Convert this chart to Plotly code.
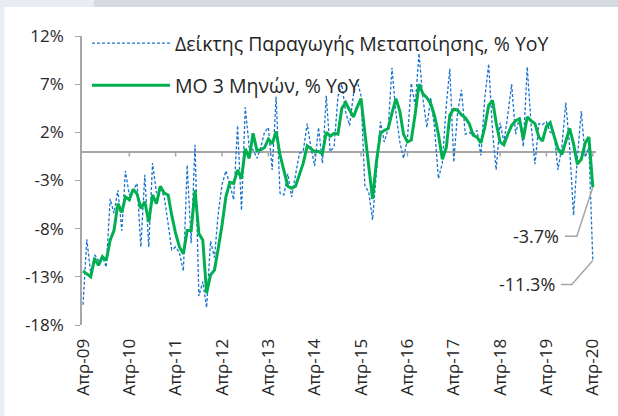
import pandas as pd
import plotly.graph_objects as go

# ---- data ----
months = pd.date_range("2009-04-01", "2020-04-01", freq="MS")
tick_labels = ["Απρ-09", "Απρ-10", "Απρ-11", "Απρ-12", "Απρ-13", "Απρ-14",
               "Απρ-15", "Απρ-16", "Απρ-17", "Απρ-18", "Απρ-19", "Απρ-20"]
y_ticks = [-18, -13, -8, -3, 2, 7, 12]
series_names = ["Δείκτης Παραγωγής Μεταποίησης, % YoY", "ΜΟ 3 Μηνών, % YoY"]

ip_yoy = [
    -15.9, -9.1, -12.7, -10.7, -11.3, -10.9, -12.0, -4.9, -6.4, -4.0, -8.2, -2.0,
    -4.5, -4.0, -3.3, -9.9, -2.4, -9.9, -1.2, -4.3, -3.7, -4.7, -7.5, -10.2,
    -9.9, -10.5, -12.4, -1.4, -9.5, 0.7, -15.0, -13.5, -16.2, -9.3, -11.0, -6.5,
    -3.4, -2.0, -3.4, -5.0, 2.7, -6.1, 4.6, 0.4, 0.2, -0.7, 0.5, 2.0,
    2.5, -1.9, 5.7, -4.3, -4.5, -2.3, -4.7, -2.6, -0.2, 0.1, 2.9, 0.5,
    -1.5, 2.5, -1.2, 5.8, 0.0, 0.5, 5.7, 7.0, 4.1, 2.7, 6.0, 7.4,
    5.8, -3.5, -4.2, -7.1, -2.1, 3.1, 1.0, 2.4, 8.7, 4.0, 1.0, -0.7,
    1.3, 7.1, 4.8, 10.2, 5.5, 2.5, 5.6, 2.4, -2.8, -1.2, 4.8, 8.6,
    -1.1, 4.1, 6.4, 1.8, 2.0, 1.7, 2.2, -0.4, 5.5, 9.1, 2.0, -1.9,
    3.0, 1.0, 3.8, 7.0, 1.8, 3.6, 0.5, 8.8, 2.9, -1.3, 2.9, 2.8,
    3.1, 2.0, 1.9, -1.9, 0.5, 5.1, 0.5, -6.6, -0.6, 4.2, -0.6, 0.5,
    -11.3,
]

ma3_yoy = [
    -12.4, -12.7, -13.0, -11.1, -11.8, -10.9, -11.3, -9.2, -8.2, -5.4, -6.3, -4.7,
    -5.0, -3.9, -4.4, -5.9, -5.2, -7.3, -4.5, -5.4, -3.6, -4.3, -4.5, -6.6,
    -8.5, -9.9, -10.6, -8.2, -8.2, -4.0, -8.5, -9.2, -14.7, -12.8, -12.3, -10.1,
    -7.6, -4.7, -3.2, -3.3, -1.9, -2.8, 0.3, -0.7, 1.9, 0.1, 0.2, 0.4,
    1.3, 0.8, 2.1, -0.3, -1.9, -3.6, -3.8, -3.6, -2.4, -1.2, 0.6, 0.3,
    0.0, 0.0, -0.2, 2.0, 1.6, 1.9, 1.8, 4.5, 5.1, 4.3, 3.6, 4.6,
    5.5, 2.0, -1.8, -4.9, -1.0, 1.9, 2.2, 2.4, 4.0, 5.5, 4.2, 1.8,
    1.0, 1.2, 3.9, 7.0, 6.0, 5.6, 5.0, 3.7, 1.8, -0.8, 0.4, 3.8,
    4.4, 4.3, 3.8, 3.5, 2.9, 1.7, 1.5, 0.9, 2.5, 4.8, 5.3, 3.0,
    1.0, 0.7, 1.8, 2.7, 3.2, 3.4, 1.3, 3.6, 3.2, 2.9, 1.5, 1.1,
    2.6, 3.0, 1.6, 0.3, -0.3, 1.0, 2.4, 0.8, -1.3, -0.8, 0.9, 1.5,
    -3.7,
]

FONT = "Open Sans"
TXT = "#262626"
GRAY = "#a6a6a6"
BLUE = "#1a73cf"
GREEN = "#00b050"

# plot-area geometry in pixels (used only for decoration placement)
W, H = 618, 416
ML, MR, MT, MB = 82, 22, 36, 91
PW, PH = W - ML - MR, H - MT - MB


def px_x(px):
    return (px - ML) / PW


def px_y(py):
    return (H - MB - py) / PH


fig = go.Figure()
fig.add_trace(go.Scatter(
    x=months, y=ip_yoy, mode="lines", name=series_names[0],
    line=dict(color=BLUE, width=1.3, dash="3px,2px"), legend="legend",
))
fig.add_trace(go.Scatter(
    x=months, y=ma3_yoy, mode="lines", name=series_names[1],
    line=dict(color=GREEN, width=3), legend="legend2",
))

tick_dates = list(months[::12])

shapes = []
# small tick marks hanging from the zero line at each April
for d in tick_dates[1:]:
    shapes.append(dict(type="line", xref="x", yref="y", ysizemode="pixel",
                       yanchor=0, x0=d, x1=d, y0=0, y1=-5,
                       line=dict(color=GRAY, width=1.5), layer="below"))

# leader lines for the last-value labels
last = months[-1]
shapes.append(dict(type="path", xref="x", yref="y", xsizemode="pixel",
                   ysizemode="pixel", xanchor=last, yanchor=ma3_yoy[-1],
                   path="M0,0 L-16,-49 L-28,-49",
                   line=dict(color=GRAY, width=1.5)))
shapes.append(dict(type="path", xref="x", yref="y", xsizemode="pixel",
                   ysizemode="pixel", xanchor=last, yanchor=ip_yoy[-1],
                   path="M0,0 L-21,-24 L-32,-24",
                   line=dict(color=GRAY, width=1.5)))

# page frame bands (outside the plot area)
shapes.append(dict(type="rect", xref="paper", yref="paper",
                   x0=px_x(0), x1=px_x(4.5), y0=px_y(0), y1=px_y(H),
                   line_width=0, fillcolor="#e8edf5", layer="above"))
shapes.append(dict(type="rect", xref="paper", yref="paper",
                   x0=px_x(0), x1=px_x(94), y0=px_y(0), y1=px_y(7),
                   line_width=0, fillcolor="#e8edf5", layer="above"))
shapes.append(dict(type="rect", xref="paper", yref="paper",
                   x0=px_x(94), x1=px_x(W), y0=px_y(0), y1=px_y(7),
                   line_width=0, fillcolor="#d5dae2", layer="above"))

annotations = [
    dict(x=last, y=ma3_yoy[-1], xref="x", yref="y",
         text=f"{ma3_yoy[-1]:.1f}%", showarrow=False, xanchor="right",
         yanchor="middle", xshift=-32, yshift=-49,
         font=dict(family=FONT, size=18, color=TXT)),
    dict(x=last, y=ip_yoy[-1], xref="x", yref="y",
         text=f"{ip_yoy[-1]:.1f}%", showarrow=False, xanchor="right",
         yanchor="middle", xshift=-36, yshift=-24,
         font=dict(family=FONT, size=18, color=TXT)),
]

fig.update_layout(
    width=W, height=H,
    margin=dict(l=ML, r=MR, t=MT, b=MB, autoexpand=False),
    paper_bgcolor="white", plot_bgcolor="white",
    font=dict(family=FONT, size=17, color=TXT),
    showlegend=True,
    legend=dict(x=px_x(87), y=px_y(24), xanchor="left", yanchor="top",
                bgcolor="rgba(0,0,0,0)", itemwidth=78,
                font=dict(family=FONT, size=19.5, color=TXT)),
    legend2=dict(x=px_x(87), y=px_y(66), xanchor="left", yanchor="top",
                 bgcolor="rgba(0,0,0,0)", itemwidth=78,
                 font=dict(family=FONT, size=19.5, color=TXT)),
    xaxis=dict(
        range=["2009-03-24", "2020-04-26"],
        tickvals=tick_dates, ticktext=tick_labels, tickangle=-90,
        showgrid=False, zeroline=False, showline=False,
        ticks="outside", ticklen=6, tickcolor="rgba(0,0,0,0)",
        tickfont=dict(family=FONT, size=17, color=TXT),
    ),
    yaxis=dict(
        range=[-18, 12], tickvals=y_ticks,
        ticktext=[f"{v}%" for v in y_ticks],
        showgrid=False, zeroline=True, zerolinecolor=GRAY, zerolinewidth=2,
        showline=True, linecolor=GRAY, linewidth=1.5,
        ticks="outside", ticklen=5, tickcolor=GRAY,
        ticklabelstandoff=8,
        tickfont=dict(family=FONT, size=17, color=TXT),
    ),
    shapes=shapes, annotations=annotations,
)

fig.write_html(
    "out.html",
    config={"displayModeBar": False},
    post_script="document.body.style.margin='0';document.body.style.padding='0';",
)
